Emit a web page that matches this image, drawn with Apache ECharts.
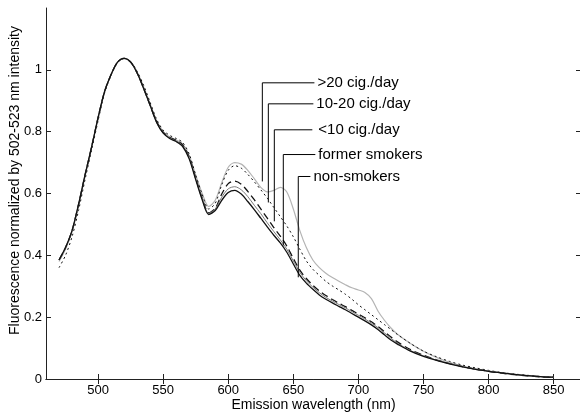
<!DOCTYPE html>
<html><head><meta charset="utf-8">
<script src="https://cdn.jsdelivr.net/npm/echarts@6/dist/echarts.min.js"></script>
<style>html,body{margin:0;padding:0;background:#fff}#c{width:580px;height:415px}</style>
</head><body><div id="c"></div>
<script>
const wavelengths = [470,475,480,485,490,495,500,505,510,515,520,525,530,535,540,545,550,555,560,565,570,575,580,585,590,595,600,605,610,615,620,625,630,635,640,645,650,655,660,665,670,675,680,685,690,695,700,705,710,715,720,725,730,740,750,760,770,780,790,800,810,820,830,840,850];

const gt20 = [0.38,0.42,0.475,0.56,0.655,0.748,0.843,0.928,0.984,1.025,1.038,1.027,0.993,0.945,0.89,0.835,0.8,0.783,0.773,0.76,0.722,0.66,0.6,0.558,0.578,0.635,0.685,0.7,0.695,0.675,0.648,0.62,0.605,0.61,0.62,0.605,0.55,0.48,0.425,0.385,0.36,0.342,0.328,0.316,0.305,0.295,0.288,0.28,0.26,0.22,0.19,0.165,0.145,0.115,0.09,0.07,0.054,0.042,0.033,0.025,0.019,0.014,0.01,0.007,0.005];

const c10to20 = [0.36,0.4,0.46,0.545,0.645,0.74,0.835,0.925,0.982,1.024,1.037,1.027,0.995,0.95,0.895,0.84,0.805,0.788,0.778,0.765,0.728,0.66,0.597,0.55,0.568,0.628,0.675,0.69,0.682,0.662,0.638,0.612,0.585,0.555,0.525,0.495,0.46,0.42,0.382,0.355,0.335,0.316,0.301,0.288,0.274,0.258,0.24,0.224,0.208,0.192,0.176,0.16,0.144,0.115,0.09,0.072,0.057,0.045,0.036,0.028,0.021,0.016,0.012,0.008,0.006];

const lt10 = [0.385,0.425,0.48,0.565,0.66,0.75,0.845,0.93,0.985,1.025,1.037,1.025,0.99,0.94,0.885,0.832,0.798,0.782,0.772,0.757,0.718,0.65,0.585,0.538,0.552,0.598,0.632,0.64,0.63,0.607,0.58,0.55,0.52,0.49,0.462,0.43,0.39,0.352,0.325,0.303,0.285,0.27,0.257,0.245,0.234,0.222,0.21,0.198,0.185,0.17,0.153,0.136,0.12,0.095,0.077,0.062,0.05,0.04,0.032,0.025,0.019,0.014,0.01,0.007,0.005];

const former = [0.385,0.425,0.48,0.565,0.66,0.75,0.845,0.93,0.985,1.025,1.037,1.025,0.99,0.94,0.885,0.83,0.796,0.78,0.77,0.755,0.715,0.648,0.583,0.536,0.55,0.588,0.615,0.622,0.612,0.59,0.562,0.535,0.505,0.477,0.45,0.42,0.382,0.345,0.318,0.297,0.279,0.264,0.252,0.241,0.23,0.218,0.206,0.194,0.181,0.166,0.149,0.132,0.116,0.092,0.075,0.061,0.05,0.04,0.032,0.026,0.02,0.015,0.011,0.008,0.006];

const nonSmokers = [0.385,0.425,0.48,0.565,0.66,0.75,0.845,0.93,0.985,1.025,1.037,1.025,0.99,0.94,0.885,0.83,0.795,0.778,0.768,0.752,0.712,0.645,0.58,0.532,0.545,0.578,0.603,0.61,0.598,0.574,0.548,0.52,0.492,0.465,0.44,0.41,0.372,0.335,0.31,0.29,0.272,0.258,0.246,0.235,0.224,0.212,0.2,0.188,0.175,0.16,0.143,0.126,0.113,0.09,0.073,0.06,0.049,0.039,0.031,0.025,0.02,0.015,0.011,0.008,0.006];

const xTicks = [500,550,600,650,700,750,800,850];
const yTicks = [0,0.2,0.4,0.6,0.8,1];

// annotation leader lines (data coordinates): x of vertical line, curve end, label level, horizontal end
const annotationNames = ['>20 cig./day','10-20 cig./day','<10 cig./day','former smokers','non-smokers'];
const annotationX = [626.2,630.8,635.4,642.3,653.8];
const annotationCurveY = [0.639,0.571,0.51,0.432,0.329];
const annotationLabelY = [0.958,0.89,0.806,0.726,0.655];
const annotationEndX = [666.2,665.4,664.6,666.9,663.1];

const FONT = "'Liberation Sans', Arial, Helvetica, sans-serif";
const chart = echarts.init(document.getElementById('c'), null, {renderer:'canvas'});

function pairs(vals){ return wavelengths.map((w,i)=>[w, vals[i]]); }

const curveStyles = [
  {data: gt20, color:'#b4b4b4', width:1.2, type:'solid'},
  {data: c10to20, color:'#111', width:1, type:[2,3]},
  {data: lt10, color:'#111', width:1.3, type:[7,4]},
  {data: former, color:'#7a7a7a', width:1, type:'solid'},
  {data: nonSmokers, color:'#111', width:1.3, type:'solid'}
];

const series = curveStyles.map((s,i)=>({
  type:'line', name: annotationNames[i], data: pairs(s.data), showSymbol:false, smooth:0.3,
  lineStyle:{color:s.color, width:s.width, type:s.type}, silent:true, z:2
}));

annotationNames.forEach((n,i)=>{
  series.push({
    type:'line', showSymbol:false, silent:true, z:3,
    lineStyle:{color:'#000', width:1},
    endLabel:{show:true, distance: i===2?6:3, formatter:n, color:'#000', fontSize:15, fontFamily:FONT},
    data:[
      [annotationX[i], annotationCurveY[i]],
      [annotationX[i], annotationLabelY[i]],
      [annotationEndX[i], annotationLabelY[i]]
    ]
  });
});

const axisLineStyle = {color:'#222', width:1};
chart.setOption({
  animation:false,
  backgroundColor:'#fff',
  grid:{left:46, right:-1, top:8, bottom:36, containLabel:false, outerBoundsMode:'none'},
  xAxis:[{
    type:'value', min:460, max:871, position:'bottom',
    name:'Emission wavelength (nm)', nameLocation:'middle', nameGap:19, nameMoveOverlap:false,
    nameTextStyle:{color:'#000', fontSize:14, fontFamily:FONT},
    axisLine:{show:true, lineStyle:axisLineStyle},
    axisTick:{show:true, inside:true, length:5, customValues:xTicks, lineStyle:axisLineStyle},
    axisLabel:{customValues:xTicks, color:'#000', fontSize:13, fontFamily:FONT, margin:5},
    splitLine:{show:false}
  },{
    type:'value', min:460, max:871, position:'top',
    axisLine:{show:true, lineStyle:axisLineStyle},
    axisTick:{show:true, inside:true, length:5, customValues:xTicks, lineStyle:axisLineStyle},
    axisLabel:{show:false}, splitLine:{show:false}
  }],
  yAxis:[{
    type:'value', min:0, max:1.2, interval:0.2, position:'left',
    name:'Fluorescence normalized by 502-523 nm intensity', nameLocation:'middle', nameGap:24, nameMoveOverlap:false,
    nameTextStyle:{color:'#000', fontSize:14, fontFamily:FONT, padding:[0,0,0,26]},
    axisLine:{show:true, lineStyle:axisLineStyle},
    axisTick:{show:true, inside:true, length:5, customValues:yTicks, lineStyle:axisLineStyle},
    axisLabel:{customValues:yTicks, color:'#000', fontSize:13, fontFamily:FONT, margin:4},
    splitLine:{show:false}
  },{
    type:'value', min:0, max:1.2, interval:0.2, position:'right',
    axisLine:{show:true, lineStyle:axisLineStyle},
    axisTick:{show:true, inside:true, length:5, customValues:yTicks, lineStyle:axisLineStyle},
    axisLabel:{show:false}, splitLine:{show:false}
  }],
  series: series
});
</script></body></html>
